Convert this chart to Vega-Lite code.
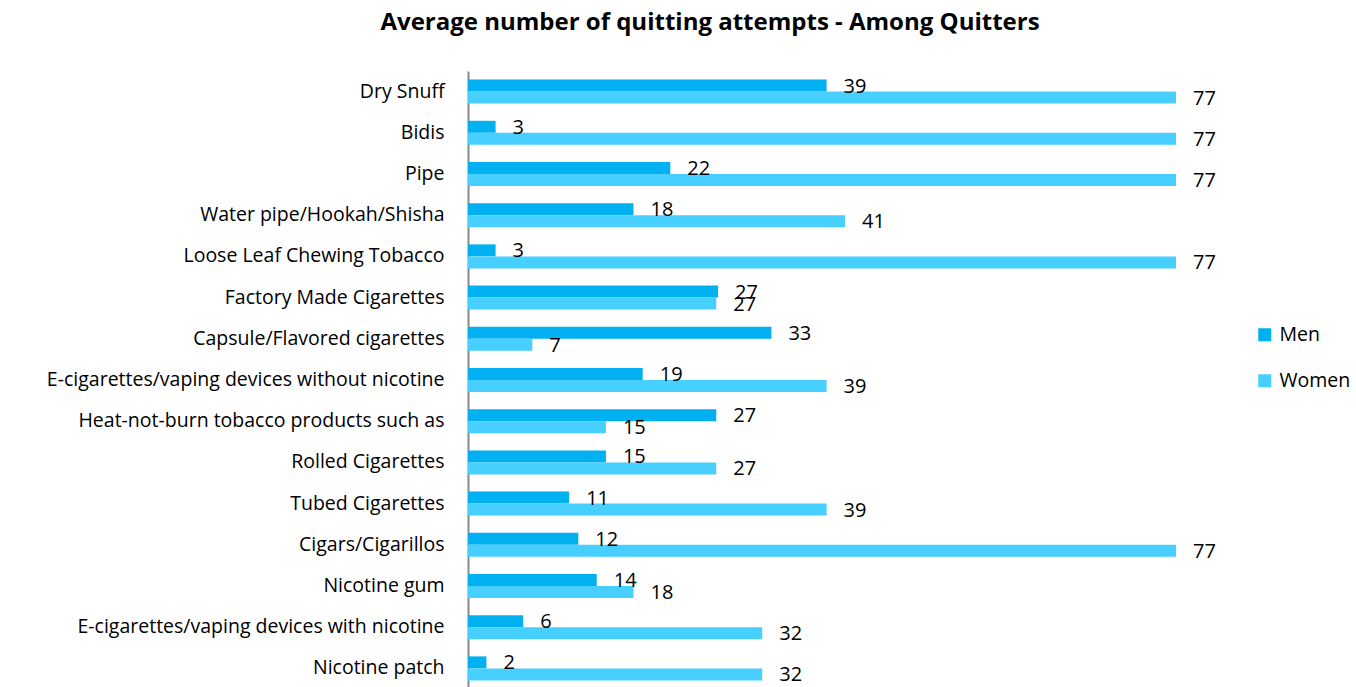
{
  "$schema": "https://vega.github.io/schema/vega-lite/v6.json",
  "width": 708,
  "height": 618,
  "autosize": {"type": "none"},
  "padding": {"left": 468, "top": 71, "right": 180, "bottom": 0},
  "background": "white",
  "config": {
    "font": "Open Sans",
    "view": {"stroke": null}
  },
  "title": {
    "text": "Average  number of quitting attempts - Among Quitters",
    "fontSize": 24,
    "fontWeight": "bold",
    "color": "#000000",
    "anchor": "middle",
    "frame": "group",
    "dx": -112,
    "offset": 36
  },
  "data": {
    "values": [
      {"product": "Dry Snuff", "gender": "Men", "value": 39},
      {"product": "Dry Snuff", "gender": "Women", "value": 77},
      {"product": "Bidis", "gender": "Men", "value": 3},
      {"product": "Bidis", "gender": "Women", "value": 77},
      {"product": "Pipe", "gender": "Men", "value": 22},
      {"product": "Pipe", "gender": "Women", "value": 77},
      {"product": "Water pipe/Hookah/Shisha", "gender": "Men", "value": 18},
      {"product": "Water pipe/Hookah/Shisha", "gender": "Women", "value": 41},
      {"product": "Loose Leaf Chewing Tobacco", "gender": "Men", "value": 3},
      {"product": "Loose Leaf Chewing Tobacco", "gender": "Women", "value": 77},
      {"product": "Factory Made Cigarettes", "gender": "Men", "value": 27.2},
      {"product": "Factory Made Cigarettes", "gender": "Women", "value": 27},
      {"product": "Capsule/Flavored cigarettes", "gender": "Men", "value": 33},
      {"product": "Capsule/Flavored cigarettes", "gender": "Women", "value": 7},
      {"product": "E-cigarettes/vaping devices without nicotine", "gender": "Men", "value": 19},
      {"product": "E-cigarettes/vaping devices without nicotine", "gender": "Women", "value": 39},
      {"product": "Heat-not-burn tobacco products such as", "gender": "Men", "value": 27},
      {"product": "Heat-not-burn tobacco products such as", "gender": "Women", "value": 15},
      {"product": "Rolled Cigarettes", "gender": "Men", "value": 15},
      {"product": "Rolled Cigarettes", "gender": "Women", "value": 27},
      {"product": "Tubed Cigarettes", "gender": "Men", "value": 11},
      {"product": "Tubed Cigarettes", "gender": "Women", "value": 39},
      {"product": "Cigars/Cigarillos", "gender": "Men", "value": 12},
      {"product": "Cigars/Cigarillos", "gender": "Women", "value": 77},
      {"product": "Nicotine gum", "gender": "Men", "value": 14},
      {"product": "Nicotine gum", "gender": "Women", "value": 18},
      {"product": "E-cigarettes/vaping devices with nicotine", "gender": "Men", "value": 6},
      {"product": "E-cigarettes/vaping devices with nicotine", "gender": "Women", "value": 32},
      {"product": "Nicotine patch", "gender": "Men", "value": 2},
      {"product": "Nicotine patch", "gender": "Women", "value": 32}
    ]
  },
  "encoding": {
    "y": {
      "field": "product",
      "type": "nominal",
      "sort": null,
      "scale": {"paddingInner": 0.417, "paddingOuter": 0.2085},
      "axis": {
        "title": null,
        "ticks": false,
        "labelPadding": 24,
        "labelFontSize": 19.5,
        "labelColor": "#000000",
        "labelLimit": 500,
        "domainColor": "#898989",
        "domainWidth": 2,
        "grid": false
      }
    },
    "yOffset": {"field": "gender", "type": "nominal", "sort": ["Men", "Women"]},
    "x": {
      "field": "value",
      "type": "quantitative",
      "scale": {"domain": [0, 77], "nice": false, "zero": true},
      "axis": null
    }
  },
  "layer": [
    {
      "mark": {"type": "bar", "clip": false},
      "encoding": {
        "color": {
          "field": "gender",
          "type": "nominal",
          "sort": ["Men", "Women"],
          "scale": {"domain": ["Men", "Women"], "range": ["#00B0F0", "#47CFFF"]},
          "legend": {
            "title": null,
            "orient": "none",
            "legendX": 787,
            "legendY": 254,
            "symbolType": "square",
            "symbolSize": 169,
            "symbolStrokeWidth": 0,
            "labelFontSize": 19.5,
            "labelColor": "#000000",
            "labelOffset": 5,
            "rowPadding": 25
          }
        }
      }
    },
    {
      "mark": {"type": "text", "align": "left", "baseline": "middle", "dx": 17, "dy": 1, "fontSize": 20, "color": "#000000"},
      "encoding": {
        "text": {"field": "value", "type": "quantitative", "format": ".0f"}
      }
    }
  ]
}
